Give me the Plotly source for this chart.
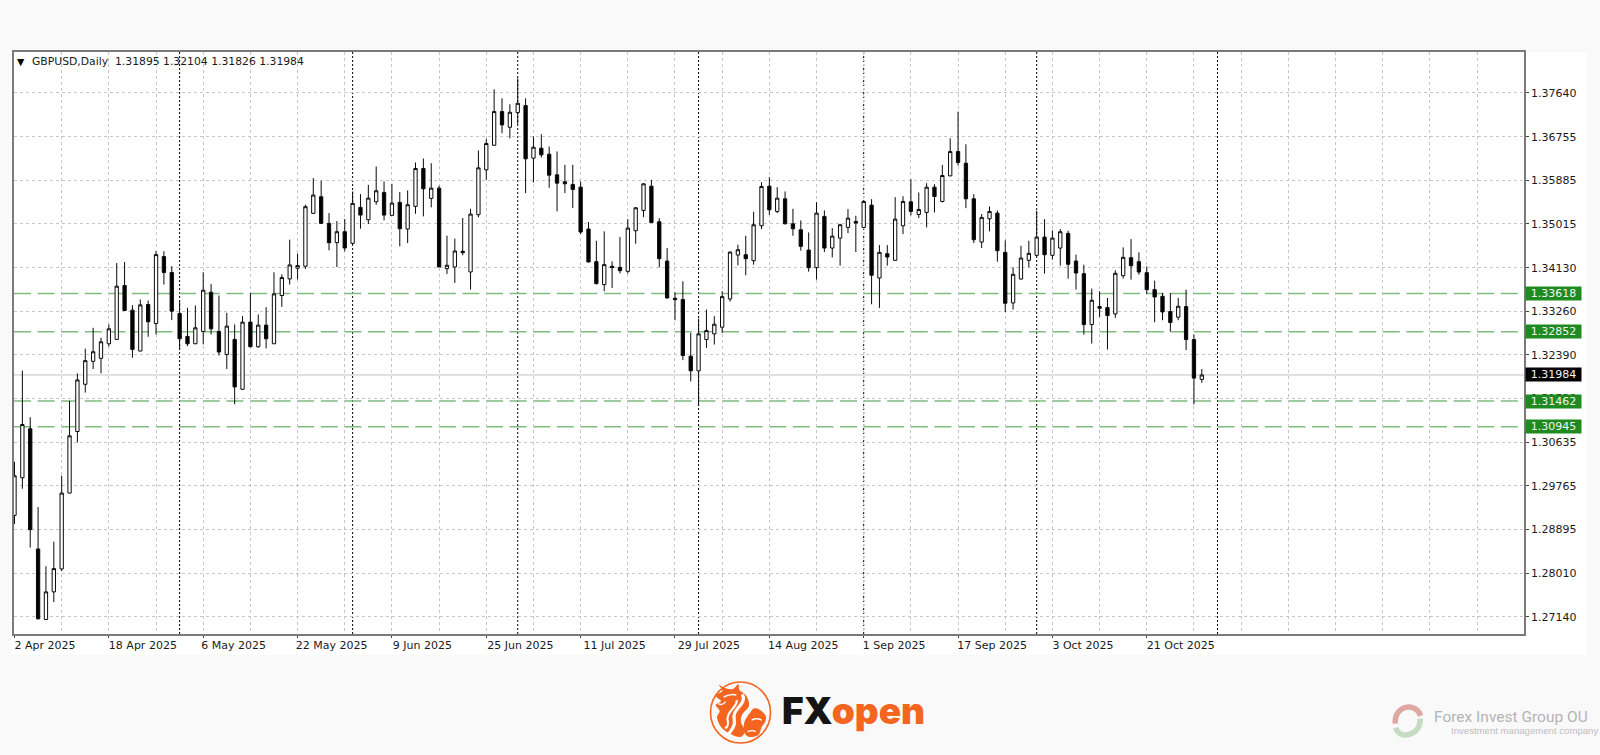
import plotly.graph_objects as go

symbol = "GBPUSD,Daily"
header_ohlc = ["1.31895", "1.32104", "1.31826", "1.31984"]

opens = [
 1.29171,1.29924,1.30904,1.28497,1.27084,1.27637,1.28097,1.29617,1.30851,1.31797,
 1.32257,1.32317,1.32609,1.32696,1.33776,1.33283,1.32463,1.33396,1.33016,1.34356,
 1.34036,1.33216,1.32756,1.32609,1.32856,1.33643,1.32856,1.32396,1.32696,1.31697,
 1.33043,1.32549,1.32983,1.32609,1.33576,1.33909,1.34123,1.34163,1.35223,1.35555,
 1.35022,1.34635,1.34855,1.34622,1.35342,1.35095,1.35455,1.35642,1.35182,1.35442,
 1.34908,1.35362,1.36122,1.35522,1.35728,1.34115,1.34148,1.34462,1.34048,1.35195,
 1.36095,1.36588,1.37262,1.36948,1.37242,1.37382,1.36328,1.36528,1.36408,1.35995,
 1.35855,1.35802,1.35748,1.34908,1.34255,1.33795,1.34162,1.34141,1.34061,1.34874,
 1.35281,1.35767,1.35054,1.34267,1.33521,1.33494,1.32361,1.32067,1.32694,1.32807,
 1.32941,1.33507,1.34387,1.34394,1.34274,1.34974,1.35767,1.35261,1.35514,1.35014,
 1.34894,1.34487,1.34134,1.35161,1.34527,1.34727,1.34941,1.35061,1.34941,1.35387,
 1.33927,1.34414,1.34281,1.34974,1.35454,1.35201,1.35241,1.35747,1.35461,1.35974,
 1.36461,1.36227,1.35514,1.34647,1.35114,1.35227,1.34441,1.33427,1.33907,1.34281,
 1.34381,1.34747,1.34381,1.34527,1.34821,1.34267,1.34014,1.32994,1.33354,1.33334,
 1.33207,1.33974,1.34334,1.34254,1.34034,1.33694,1.33561,1.33254,1.33141,1.33354,
 1.32694,1.31895]
highs = [
 1.30244,1.32071,1.31137,1.29337,1.28151,1.28644,1.29964,1.31464,1.32017,1.32511,
 1.32929,1.32729,1.32996,1.34229,1.34249,1.33383,1.33496,1.33476,1.34463,1.34463,
 1.34163,1.33463,1.33329,1.33376,1.34043,1.33809,1.33576,1.33229,1.32996,1.33163,
 1.33629,1.33196,1.33343,1.34043,1.34000,1.34696,1.34416,1.35396,1.35929,1.35875,
 1.35228,1.35068,1.35108,1.35662,1.35608,1.35795,1.36162,1.35862,1.35815,1.35648,
 1.35682,1.36242,1.36322,1.36228,1.35775,1.34775,1.34715,1.35128,1.35315,1.36482,
 1.36715,1.37708,1.37528,1.37408,1.37928,1.37528,1.36762,1.36808,1.36562,1.36462,
 1.36195,1.36195,1.35862,1.35048,1.34675,1.34862,1.34262,1.34747,1.35107,1.35344,
 1.35827,1.35894,1.35127,1.34527,1.33641,1.33861,1.32827,1.33114,1.33294,1.33161,
 1.33661,1.34461,1.34594,1.34774,1.35254,1.35847,1.35947,1.35747,1.35661,1.35314,
 1.35081,1.34841,1.35447,1.35281,1.34927,1.35014,1.35307,1.35174,1.35474,1.35507,
 1.34587,1.34587,1.35547,1.35567,1.35907,1.35641,1.35827,1.35807,1.36194,1.36727,
 1.37261,1.36607,1.35607,1.35207,1.35361,1.35281,1.34681,1.34141,1.34574,1.34674,
 1.35274,1.35107,1.34881,1.34907,1.34874,1.34394,1.34194,1.33714,1.33661,1.33527,
 1.34081,1.34541,1.34707,1.34441,1.34161,1.33874,1.33627,1.33627,1.33527,1.33694,
 1.32794,1.32104]
lows = [
 1.28997,1.29704,1.28524,1.27087,1.27084,1.27431,1.28051,1.29617,1.30631,1.31631,
 1.32104,1.32017,1.32556,1.32696,1.33270,1.32329,1.32460,1.32749,1.32796,1.33796,
 1.33083,1.32496,1.32563,1.32609,1.32596,1.32796,1.32376,1.32104,1.31397,1.31684,
 1.32540,1.32530,1.32516,1.32609,1.33349,1.33796,1.33896,1.34109,1.35210,1.35009,
 1.34482,1.34148,1.34462,1.34595,1.34915,1.35008,1.35395,1.35082,1.35182,1.34562,
 1.34628,1.35215,1.35162,1.35342,1.34148,1.34008,1.33828,1.34382,1.33695,1.35142,
 1.35895,1.36575,1.36828,1.36728,1.37015,1.35628,1.35842,1.36342,1.35735,1.35262,
 1.35628,1.35328,1.34808,1.34242,1.33795,1.33662,1.33728,1.34020,1.34014,1.34614,
 1.35147,1.35027,1.34141,1.33514,1.33081,1.32281,1.31854,1.31361,1.32527,1.32594,
 1.32827,1.33454,1.34181,1.33981,1.34194,1.34907,1.35194,1.35227,1.35001,1.34774,
 1.34474,1.34054,1.33894,1.34447,1.34341,1.34174,1.34827,1.34447,1.34927,1.33401,
 1.33327,1.34174,1.34274,1.34807,1.35181,1.35127,1.34941,1.35241,1.35441,1.35967,
 1.36181,1.35327,1.34627,1.34527,1.34861,1.34254,1.33247,1.33294,1.33894,1.34141,
 1.34361,1.34014,1.34294,1.34174,1.33914,1.33694,1.32794,1.32614,1.33147,1.32494,
 1.33127,1.33914,1.33894,1.33994,1.33607,1.33041,1.33081,1.32854,1.33081,1.32481,
 1.31394,1.31826]
closes = [
 1.29964,1.30991,1.28884,1.27097,1.27637,1.28104,1.29617,1.30764,1.31884,1.32271,
 1.32449,1.32649,1.32909,1.33763,1.33276,1.32496,1.33389,1.33049,1.34396,1.34036,
 1.33263,1.32709,1.32609,1.32929,1.33683,1.32909,1.32443,1.32963,1.31744,1.33043,
 1.32549,1.32983,1.32709,1.33609,1.33936,1.34189,1.34176,1.35356,1.35589,1.35022,
 1.34635,1.34855,1.34528,1.35422,1.35188,1.35528,1.35675,1.35188,1.35428,1.34915,
 1.35395,1.36122,1.35715,1.35728,1.34148,1.34182,1.34468,1.34435,1.35208,1.36135,
 1.36622,1.37262,1.36995,1.37248,1.37428,1.36315,1.36548,1.36395,1.35988,1.35828,
 1.35815,1.35702,1.34848,1.34248,1.33815,1.34195,1.34135,1.34074,1.34927,1.35334,
 1.35814,1.35041,1.34314,1.33527,1.33494,1.32374,1.32067,1.32807,1.32874,1.33001,
 1.33554,1.34447,1.34494,1.34314,1.34994,1.35761,1.35294,1.35527,1.35014,1.34914,
 1.34561,1.34134,1.35227,1.34527,1.34767,1.34994,1.35127,1.35027,1.35461,1.33981,
 1.34441,1.34347,1.35107,1.35461,1.35261,1.35301,1.35747,1.35561,1.35981,1.36461,
 1.36241,1.35514,1.34694,1.35141,1.35261,1.34474,1.33421,1.34001,1.34327,1.34421,
 1.34747,1.34394,1.34727,1.34854,1.34201,1.34027,1.32994,1.33481,1.33321,1.33174,
 1.34021,1.34341,1.34174,1.34047,1.33694,1.33547,1.33247,1.33034,1.33361,1.32694,
 1.31921,1.31984]

date_labels = ["2 Apr 2025", "18 Apr 2025", "6 May 2025", "22 May 2025", "9 Jun 2025",
               "25 Jun 2025", "11 Jul 2025", "29 Jul 2025", "14 Aug 2025", "1 Sep 2025",
               "17 Sep 2025", "3 Oct 2025", "21 Oct 2025"]
month_start_bars = [21, 43, 64, 87, 108, 130, 153]
price_ticks = [1.37640, 1.36755, 1.35885, 1.35015, 1.34130, 1.33260, 1.32390,
               1.31520, 1.30635, 1.29765, 1.28895, 1.28010, 1.27140]
level_lines = [1.33618, 1.32852, 1.31462, 1.30945]
last_price = 1.31984

W, H = 1600, 755
ML, MR, MT, MB = 14, 76, 52, 121
BAR = 7.863
X0 = 14.5
Y_TOP, Y_BOT = 1.38456, 1.26793
x_range = [(ML - X0) / BAR, (W - MR - X0) / BAR]

def px(x):
    return (x - ML) / (W - ML - MR)
def py(y):
    return (H - MB - y) / (H - MT - MB)
def curve(start, segs):
    s = f"M{px(start[0]):.5f},{py(start[1]):.5f}"
    for c in segs:
        s += " C" + " ".join(f"{px(a):.5f},{py(b):.5f}" for a, b in c)
    return s
def smooth(pts):
    m = len(pts)
    segs = []
    for i in range(m):
        p0, p1, p2, p3 = pts[i - 1], pts[i], pts[(i + 1) % m], pts[(i + 2) % m]
        c1 = (p1[0] + (p2[0] - p0[0]) / 6, p1[1] + (p2[1] - p0[1]) / 6)
        c2 = (p2[0] - (p3[0] - p1[0]) / 6, p2[1] - (p3[1] - p1[1]) / 6)
        segs.append([c1, c2, p2])
    return curve(pts[0], segs) + " Z"

FONT = "DejaVu Sans"
TICK_SIZE = 11
ORANGE = "#f4651f"
GRID = "#c6c6c6"
GRID_DASH = "3px,3px"
n = len(closes)
bars = list(range(n))
label_step = 12
label_bars = [i * label_step for i in range(len(date_labels))]
minor_grid_bars = [v for v in range(6, 192, 6) if v not in label_bars]
# a trailing figure space gives one-digit days the width of two-digit days,
# so that all labels start at their tick when shifted by the same amount
axis_labels = [d + "\u2007" if d[1] == " " else d for d in date_labels]

fig = go.Figure(go.Candlestick(
    x=bars, open=opens, high=highs, low=lows, close=closes,
    increasing=dict(line=dict(color="#0a0a0a", width=1), fillcolor="#ffffff"),
    decreasing=dict(line=dict(color="#0a0a0a", width=1), fillcolor="#000000"),
    whiskerwidth=0, showlegend=False, hoverinfo="skip"))

shapes = []
shapes.append(dict(type="rect", xref="paper", yref="paper", x0=px(11), x1=px(1587), y0=py(655), y1=py(52),
                   fillcolor="#ffffff", line=dict(width=0), layer="below"))
for b in month_start_bars:
    shapes.append(dict(type="line", xref="x", yref="paper", x0=b, x1=b, y0=0, y1=1,
                       line=dict(color="#000000", width=1, dash="2px,2px"), layer="below"))
for lv in level_lines:
    shapes.append(dict(type="line", xref="x", yref="y", x0=x_range[0], x1=x_range[1] - 0.75, y0=lv, y1=lv,
                       line=dict(color="#80bc80", width=1.5, dash="17px,6.6px"), layer="below"))
shapes.append(dict(type="line", xref="paper", yref="y", x0=0, x1=1, y0=last_price, y1=last_price,
                   line=dict(color="#c4c4c4", width=1), layer="below"))

# FXopen emblem (decoration)
cx, cy = 740.5, 712.5
def z(a, b):
    return (705 + a / 3, 675 + b / 3)
shapes.append(dict(type="circle", xref="paper", yref="paper", x0=px(cx - 30), x1=px(cx + 30), y0=py(cy + 30.5), y1=py(cy - 30.5),
                   line=dict(color=ORANGE, width=1.6), fillcolor="#f9f9f9"))
body = [(32, 62), (52, 48), (42, 30), (62, 40), (84, 42), (100, 28), (104, 46), (124, 62), (132, 92), (112, 118),
        (108, 142), (120, 168), (106, 186), (78, 178), (50, 158), (36, 128), (44, 108), (32, 90), (48, 78)]
bull2 = [(136, 112), (148, 100), (164, 104), (182, 122), (180, 142), (170, 156), (160, 180), (132, 186), (118, 172), (118, 142)]
for pts in (body, bull2):
    shapes.append(dict(type="path", xref="paper", yref="paper", path=smooth([z(a, b) for a, b in pts]),
                       fillcolor=ORANGE, line=dict(width=0)))
for s0, segs, wd in [
    ((112, 58), [[(128, 90), (78, 100), (88, 135)], [(92, 155), (78, 165), (72, 176)]], 3.2),
    ((95, 75), [[(100, 95), (62, 110), (68, 135)], [(72, 150), (65, 158), (60, 160)]], 2.2),
    ((56, 66), [[(68, 60), (80, 56), (94, 60)]], 1.6),
    ((40, 86), [[(50, 92), (56, 88), (62, 80)]], 1.4),
    ((140, 135), [[(150, 130), (160, 130), (170, 135)]], 1.4),
    ((128, 170), [[(138, 166), (146, 166), (152, 170)]], 1.4),
]:
    shapes.append(dict(type="path", xref="paper", yref="paper",
                       path=curve(z(*s0), [[z(*p) for p in c] for c in segs]),
                       line=dict(color="#ffffff", width=wd)))

# Forex Invest Group ring (decoration)
rx, ry, rr = 1407.7, 720.7, 12.5
shapes.append(dict(type="path", xref="paper", yref="paper",
                   path=curve((rx - rr, ry + 3), [[(rx - rr - 1, ry - 16), (rx + 8, ry - 19), (rx + 13, ry - 5)]]),
                   line=dict(color="#e0a8a4", width=5.5)))
shapes.append(dict(type="path", xref="paper", yref="paper",
                   path=curve((rx + rr, ry - 2), [[(rx + 13, ry + 16), (rx - 9, ry + 19), (rx - 12, ry + 7)]]),
                   line=dict(color="#c4dcc0", width=5.5)))

annotations = []
for lv, bg in [(v, "#1f8a1f") for v in level_lines] + [(last_price, "#000000")]:
    annotations.append(dict(xref="paper", yref="y", x=1, y=lv, xanchor="left", yanchor="middle", xshift=1,
                            width=55, height=13, align="center", valign="middle", showarrow=False,
                            bgcolor=bg, borderpad=0, text=f"{lv:.5f}",
                            font=dict(family=FONT, size=TICK_SIZE, color="#f4f4f4")))
annotations.append(dict(xref="paper", yref="paper", x=px(15), y=py(61.3), xanchor="left", yanchor="middle",
                        showarrow=False, text="▼", font=dict(family=FONT, size=9.5, color="#000000")))
annotations.append(dict(xref="paper", yref="paper", x=px(30), y=py(61.3), xanchor="left", yanchor="middle",
                        showarrow=False, text=f"{symbol}  " + " ".join(header_ohlc),
                        font=dict(family=FONT, size=10.8, color="#1a1a1a")))
annotations.append(dict(xref="paper", yref="paper", x=px(780), y=py(710), xanchor="left", yanchor="middle",
                        showarrow=False,
                        text=f'<span style="color:#141414">FX</span><span style="color:{ORANGE}">open</span>',
                        font=dict(family="Inter", size=37, weight=900)))
annotations.append(dict(xref="paper", yref="paper", x=px(1432), y=py(716.5), xanchor="left", yanchor="middle",
                        showarrow=False, text="Forex Invest Group OU",
                        font=dict(family="Roboto", size=15.5, color="#b4b4b4")))
annotations.append(dict(xref="paper", yref="paper", x=px(1449), y=py(730), xanchor="left", yanchor="middle",
                        showarrow=False, text="Investment management company",
                        font=dict(family="Liberation Sans", size=9.6, color="#bdbdbd")))

fig.update_layout(
    width=W, height=H, margin=dict(l=ML, r=MR, t=MT, b=MB, pad=0), autosize=False,
    paper_bgcolor="#f9f9f9", plot_bgcolor="rgba(0,0,0,0)", showlegend=False,
    boxgap=0.4, shapes=shapes, annotations=annotations,
    xaxis=dict(type="linear", range=x_range, rangeslider=dict(visible=False),
               tickmode="array", tickvals=label_bars, ticktext=axis_labels, ticks="outside", ticklen=2,
               tickcolor="#444444", showgrid=True, gridcolor=GRID, griddash=GRID_DASH, gridwidth=1,
               minor=dict(tickmode="array", tickvals=minor_grid_bars, showgrid=True, gridcolor=GRID,
                          griddash=GRID_DASH, gridwidth=1, ticks=""),
               showline=True, linecolor="#7a7a7a", linewidth=1.6, mirror=True, zeroline=False,
               tickangle=0, ticklabelshift=34, ticklabelstandoff=-2,
               tickfont=dict(family=FONT, size=TICK_SIZE, color="#1a1a1a")),
    yaxis=dict(range=[Y_BOT, Y_TOP], side="right", tickmode="array", tickvals=price_ticks,
               ticktext=[f"{v:.5f}" for v in price_ticks], ticks="outside", ticklen=3,
               tickcolor="#444444", showgrid=True, gridcolor=GRID, griddash=GRID_DASH, gridwidth=1,
               showline=True, linecolor="#7a7a7a", linewidth=1.6, mirror=True, zeroline=False,
               tickfont=dict(family=FONT, size=TICK_SIZE, color="#1a1a1a")),
)
fig.write_html("out.html", config=dict(displayModeBar=False),
               post_script="document.body.style.margin='0';document.body.style.background='#f9f9f9';")
